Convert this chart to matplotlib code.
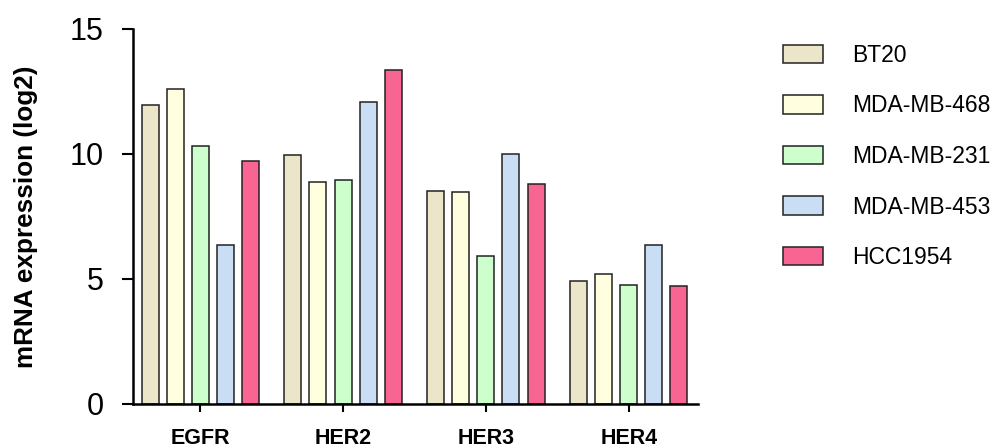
import matplotlib.pyplot as plt
import numpy as np

plt.rcParams['font.family'] = ['Liberation Sans', 'DejaVu Sans']

genes = ['EGFR', 'HER2', 'HER3', 'HER4']
cell_lines = ['BT20', 'MDA-MB-468', 'MDA-MB-231', 'MDA-MB-453', 'HCC1954']
bt20 = [11.96, 9.96, 8.53, 4.92]
mda468 = [12.59, 8.87, 8.48, 5.21]
mda231 = [10.31, 8.97, 5.93, 4.77]
mda453 = [6.35, 12.09, 10.0, 6.35]
hcc1954 = [9.71, 13.36, 8.81, 4.71]
colors = ['#EBE6C9', '#FFFFE0', '#CCFFCC', '#C9DDF5', '#F86592']

series = [bt20, mda468, mda231, mda453, hcc1954]

fig = plt.figure(figsize=(9.94, 4.46), dpi=100)
ax = fig.add_axes([0.1338, 0.0942, 0.5684, 0.8408])

x = np.arange(len(genes))
bar_width = 0.119
pitch = 0.175
for i, (vals, name) in enumerate(zip(series, cell_lines)):
    ax.bar(x + (i - 2) * pitch, vals, bar_width, color=colors[i],
           edgecolor='#222222', linewidth=1.1, label=name)

ax.set_xlim(-0.469, 3.483)
ax.set_ylim(0, 15)
ax.set_yticks([0, 5, 10, 15])
ax.set_xticks(x)
ax.set_xticklabels(genes, fontsize=15.5, fontweight='bold')
ax.tick_params(axis='y', labelsize=22, length=8, width=1.5, pad=13)
ax.tick_params(axis='x', length=6, width=1.5, pad=11)
ax.set_ylabel('mRNA expression (log2)', fontsize=18.8, fontweight='bold')
ax.yaxis.set_label_coords(-0.168, 0.5)

for s in ['top', 'right']:
    ax.spines[s].set_visible(False)
for s in ['left', 'bottom']:
    ax.spines[s].set_linewidth(1.8)

fig.legend(loc='upper left', bbox_to_anchor=(783 / 994, 1 - 44 / 446),
           frameon=False, fontsize=16.5, handlelength=1.75, handleheight=0.88,
           handletextpad=1.25, labelspacing=1.2, borderpad=0, borderaxespad=0)

plt.savefig('out.png', dpi=100)
